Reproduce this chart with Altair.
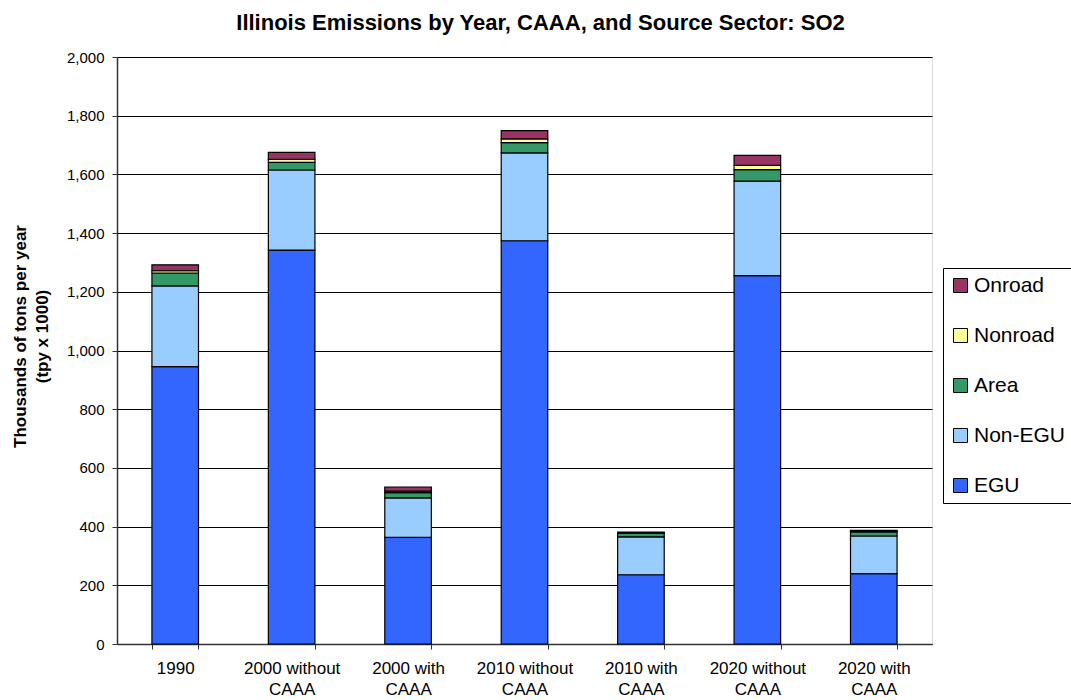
import altair as alt
import pandas as pd

# Emissions by scenario (thousands of tons per year)
scenarios = ["1990", "2000 without CAAA", "2000 with CAAA", "2010 without CAAA",
             "2010 with CAAA", "2020 without CAAA", "2020 with CAAA"]
sectors = ["EGU", "Non-EGU", "Area", "Nonroad", "Onroad"]
egu = [945, 1342, 363, 1374, 236, 1255, 240]
non_egu = [275, 273, 135, 299, 129, 322, 128]
area = [44, 26, 18, 35, 13, 39, 14]
nonroad = [8, 10, 5, 13, 1, 15, 2]
onroad = [20, 24, 14, 28, 2, 34, 3]
colors = ["#3366FF", "#99CCFF", "#339966", "#FFFF99", "#993366"]

series = [egu, non_egu, area, nonroad, onroad]
rows = []
for s_idx, (sector, vals) in enumerate(zip(sectors, series)):
    for scen, v in zip(scenarios, vals):
        rows.append({"Scenario": scen, "Sector": sector, "Value": v, "Order": s_idx})
df = pd.DataFrame(rows)

FONT = "Liberation Sans"

chart = alt.Chart(df).mark_bar(stroke="#000000", strokeWidth=1.2).encode(
    x=alt.X("Scenario:N", sort=scenarios,
            scale=alt.Scale(paddingInner=0.6, paddingOuter=0.3),
            axis=alt.Axis(title=None, labelAngle=0, labelFontSize=17, labelFont=FONT,
                          labelColor="#000000", tickBand="extent", tickSize=5,
                          tickColor="#333333", domainColor="#333333", domainWidth=1.5,
                          labelPadding=11, labelLineHeight=21,
                          labelExpr="indexof(datum.label, ' CAAA') > 0 ? [replace(datum.label, ' CAAA', ''), 'CAAA'] : datum.label")),
    y=alt.Y("Value:Q", stack="zero",
            scale=alt.Scale(domain=[0, 2000], nice=False),
            axis=alt.Axis(title=["Thousands of tons per year", "(tpy x 1000)"],
                          titleFont=FONT, titleFontSize=17, titleFontWeight="bold",
                          titleColor="#000000", titlePadding=15, titleLineHeight=22,
                          titleY=279,
                          values=list(range(0, 2001, 200)), format=",d",
                          labelFont=FONT, labelFontSize=15, labelColor="#000000",
                          tickSize=5, tickColor="#333333", labelPadding=8,
                          domainColor="#333333", domainWidth=1.5,
                          grid=True, gridColor="#000000", gridWidth=1)),
    color=alt.Color("Sector:N",
                    scale=alt.Scale(domain=sectors, range=colors),
                    legend=alt.Legend(title=None, orient="none", legendX=826, legendY=211,
                                      values=sectors[::-1], symbolType="square",
                                      symbolSize=196, symbolStrokeColor="#000000",
                                      symbolStrokeWidth=1, labelFont=FONT,
                                      labelFontSize=21, labelColor="#000000",
                                      rowPadding=28, padding=7, labelOffset=3,
                                      strokeColor="#000000", fillColor="#FFFFFF")),
    order=alt.Order("Order:Q", sort="ascending"),
).properties(
    width=815,
    height=587,
    autosize=alt.AutoSizeParams(type="none"),
    padding={"left": 117, "top": 57, "right": 139, "bottom": 56},
    title=alt.TitleParams("Illinois Emissions by Year, CAAA, and Source Sector: SO2",
                          font=FONT, fontSize=22, fontWeight="bold", color="#000000",
                          offset=15, dx=16),
).configure_view(stroke="#333333", strokeWidth=1.5).configure(background="#FFFFFF")

chart.save("out.html", embed_options={"renderer": "svg", "actions": False})
